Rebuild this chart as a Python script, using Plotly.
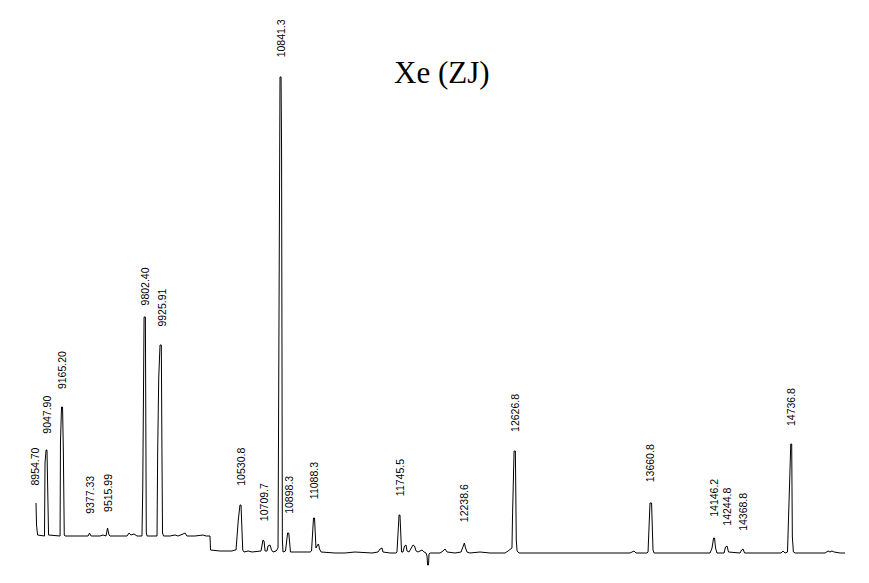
import plotly.graph_objects as go

# Spectrum trace (mass in Da, intensity in arbitrary units)
mass = [8966, 8970, 8978, 9031, 9035, 9043, 9050, 9054, 9062, 9150, 9153, 9161, 9169, 9175, 9182, 9188,
        9364, 9375, 9387, 9455, 9478, 9501, 9513, 9524, 9532, 9662, 9677, 9692, 9715, 9738,
        9776, 9782, 9786, 9792, 9802, 9803, 9809, 9815, 9891, 9896, 9904, 9914, 9924, 9928, 9933, 9941,
        9990, 10029, 10052, 10090, 10105, 10120, 10181, 10243, 10266, 10296, 10300, 10373, 10464, 10487,
        10495, 10512, 10525, 10533, 10538, 10546, 10556, 10587, 10617, 10686, 10694, 10701, 10709, 10717,
        10732, 10739, 10755, 10766, 10778, 10801, 10816, 10827, 10831, 10839, 10843, 10849, 10854,
        10873, 10881, 10889, 10898, 10904, 10911, 10984, 11061, 11072, 11080, 11087, 11095, 11101, 11106,
        11118, 11125, 11133, 11145, 11252, 11328, 11404, 11481, 11534, 11580, 11596, 11611, 11618, 11672,
        11718, 11725, 11733, 11741, 11748, 11754, 11760, 11771, 11783, 11794, 11802, 11817, 11832, 11848,
        11859, 11871, 11886, 11901, 11917, 11932, 11947, 11955, 11959, 11966, 11970, 11978, 12054, 12077,
        12092, 12108, 12169, 12215, 12230, 12240, 12249, 12260, 12283, 12360, 12436, 12551, 12574, 12589,
        12604, 12608, 12614, 12620, 12630, 12633, 12637, 12643, 12658, 13506, 13522, 13537, 13552, 13636,
        13644, 13652, 13659, 13671, 13675, 13682, 13690, 14118, 14133, 14145, 14152, 14160, 14171,
        14225, 14236, 14248, 14259, 14347, 14359, 14370, 14382, 14577, 14661, 14676, 14691,
        14710, 14716, 14727, 14735, 14742, 14747, 14755, 14768, 14997, 15020, 15035, 15050, 15066, 15112, 15150]

intensity = [50, 28, 18, 17, 90, 103, 103, 63, 18, 17, 110, 146, 146, 103, 18, 17,
             17, 20, 17, 17, 18, 17, 25, 18, 17, 17, 20, 18, 19, 17,
             17, 65, 161, 236, 236, 123, 20, 17, 17, 100, 175, 208, 208, 113, 20, 17,
             17, 18, 17, 19, 20, 17, 17, 18, 17, 17, 3, 2, 2, 3,
             3, 33, 48, 48, 33, 3, 1, 2, 1, 2, 8, 13, 12, 2,
             2, 7, 8, 3, 1, 2, 5, 405, 476, 476, 405, 13, 1,
             2, 13, 20, 20, 8, 1, 1, 1, 2, 18, 35, 35, 13, 5,
             8, 9, 4, 1, 0, 0, 1, 0, 0, 1, 4, 5, 1, 0,
             0, 1, 28, 38, 38, 23, 1, 1, 7, 8, 2, 1, 5, 8,
             7, 2, 1, 2, 3, 1, 0, -3, -12, -12, -1, 0, 0, 2,
             4, 1, 0, 1, 6, 10, 5, 1, 0, 1, 0, 0, 2, 4,
             5, 36, 70, 102, 102, 53, 13, 2, 0, 0, 1, 2, 0, 0,
             1, 23, 50, 50, 38, 3, 0, 0, 5, 15, 15, 5, 0,
             0, 6, 7, 1, 0, 3, 4, 0, 0, 0, 2, 0,
             1, 30, 78, 109, 109, 16, 1, 0, 0, 2, 1, 2, 1, 0, 0]

# Peak labels and the height at which each label starts
peak_labels = ["8954.70", "9047.90", "9165.20", "9377.33", "9515.99", "9802.40", "9925.91",
               "10530.8", "10709.7", "10841.3", "10898.3", "11088.3", "11745.5", "12238.6",
               "12626.8", "13660.8", "14146.2", "14244.8", "14368.8", "14736.8"]
label_height = [66, 118, 163, 38, 40, 247, 225,
                66, 31, 495, 38, 53, 56, 30,
                120, 70, 35, 26, 21, 126]

title_text = "Xe (ZJ)"

fig = go.Figure()
fig.add_trace(go.Scatter(x=mass, y=intensity, mode="lines",
                         line=dict(color="black", width=1), hoverinfo="skip",
                         showlegend=False))

for lab, h in zip(peak_labels, label_height):
    fig.add_annotation(x=float(lab), y=h, text=lab, showarrow=False, textangle=-90,
                       xanchor="center", yanchor="bottom", borderpad=0,
                       font=dict(family="Liberation Sans, Arial, sans-serif", size=10.5, color="black"))

fig.add_annotation(x=(441.5 - 8) / 869, y=1 - (72 - 8) / 583, xref="paper", yref="paper", text=title_text,
                   showarrow=False, xanchor="center", yanchor="middle",
                   font=dict(family="Liberation Serif, Times New Roman, serif", size=31, color="black"))

fig.update_layout(width=869, height=583, margin=dict(l=0, r=0, t=0, b=0),
                  paper_bgcolor="white", plot_bgcolor="white")
fig.update_xaxes(range=[8752, 15394], visible=False, showgrid=False, zeroline=False)
fig.update_yaxes(range=[-38, 545], visible=False, showgrid=False, zeroline=False)

fig.write_html("out.html")
